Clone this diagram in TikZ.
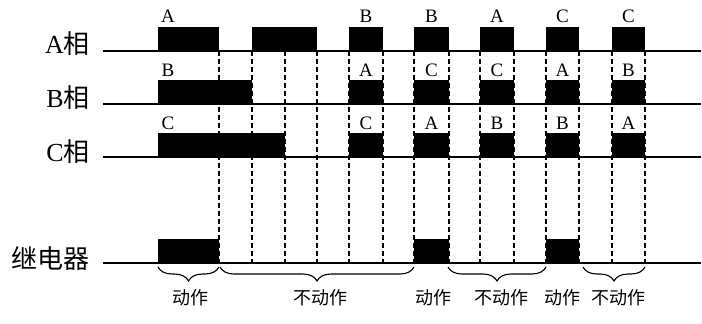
\documentclass[tikz,border=0pt]{standalone}
\usepackage{fontspec}
\setmainfont{Liberation Serif}
\newfontfamily\cjk{Noto Sans CJK SC}
\usepackage{tikz}
\usetikzlibrary{decorations.pathreplacing}

\begin{document}
\begin{tikzpicture}[x=1pt,y=-1pt]
                \useasboundingbox (0,0) rectangle (702,324);
                % Row names
                \node[anchor=base east,inner sep=0pt,font=\fontsize{26}{26}\selectfont] (nameA) at (90,53) {A{\cjk 相}};
                \node[anchor=base east,inner sep=0pt,font=\fontsize{26}{26}\selectfont] (nameB) at (90,107) {B{\cjk 相}};
                \node[anchor=base east,inner sep=0pt,font=\fontsize{26}{26}\selectfont] (nameC) at (90,161) {C{\cjk 相}};
                \node[anchor=base east,inner sep=0pt,font=\cjk\fontsize{26}{26}\selectfont] (nameR) at (90,268) {继电器};
                % Dashed time marks
                \foreach \t in {219,252,285,317,349,383,414,449,480,514,546,579,612,645}
                    \draw[line width=1.2pt,black,dash pattern=on 5pt off 3pt](\t,51)--(\t,263);
                % Base lines
                \draw[line width=1.6pt,black](103,51)--(701,51);
                \draw[line width=1.6pt,black](103,104)--(701,104);
                \draw[line width=1.6pt,black](103,157)--(701,157);
                \draw[line width=1.6pt,black](103,263)--(701,263);
                % A phase pulses
                \fill[black](158,51)rectangle(219,27);
                \fill[black](252,51)rectangle(317,27);
                \foreach \a/\b in {349/383,414/449,480/514,546/579,612/645}
                    \fill[black](\a,51)rectangle(\b,27);
                % B phase pulses
                \fill[black](158,104)rectangle(252,80);
                \foreach \a/\b in {349/383,414/449,480/514,546/579,612/645}
                    \fill[black](\a,104)rectangle(\b,80);
                % C phase pulses
                \fill[black](158,157)rectangle(285,133);
                \foreach \a/\b in {349/383,414/449,480/514,546/579,612/645}
                    \fill[black](\a,157)rectangle(\b,133);
                % Relay pulses
                \fill[black](158,263)rectangle(219,239);
                \fill[black](414,263)rectangle(449,239);
                \fill[black](546,263)rectangle(579,239);
                % Phase letters
                \foreach \x/\la/\lb/\lc [count=\i] in {168/A/B/C,366/B/A/C,431.5/B/C/A,497/A/C/B,562.5/C/A/B,628.5/C/B/A}{
                    \node[anchor=base,inner sep=0pt,font=\fontsize{19}{19}\selectfont] (labA\i) at (\x,22) {\la};
                    \node[anchor=base,inner sep=0pt,font=\fontsize{19}{19}\selectfont] (labB\i) at (\x,76) {\lb};
                    \node[anchor=base,inner sep=0pt,font=\fontsize{19}{19}\selectfont] (labC\i) at (\x,129) {\lc};
                }
                % Braces
                \draw[line width=1.1pt,black,decorate,decoration={brace,mirror,amplitude=14pt}](158,267)--(219,267);
                \draw[line width=1.1pt,black,decorate,decoration={brace,mirror,amplitude=14pt}](220,267)--(414,267);
                \draw[line width=1.1pt,black,decorate,decoration={brace,mirror,amplitude=14pt}](448,267)--(546,267);
                \draw[line width=1.1pt,black,decorate,decoration={brace,mirror,amplitude=14pt}](583,267)--(645,267);
                % Relay states
                \node[font=\cjk\fontsize{18}{18}\selectfont,inner sep=0pt] (act1) at (190,298) {动作};
                \node[font=\cjk\fontsize{18}{18}\selectfont,inner sep=0pt] (idle1) at (320,298) {不动作};
                \node[font=\cjk\fontsize{18}{18}\selectfont,inner sep=0pt] (act2) at (433,298) {动作};
                \node[font=\cjk\fontsize{18}{18}\selectfont,inner sep=0pt] (idle2) at (501,298) {不动作};
                \node[font=\cjk\fontsize{18}{18}\selectfont,inner sep=0pt] (act3) at (562,298) {动作};
                \node[font=\cjk\fontsize{18}{18}\selectfont,inner sep=0pt] (idle3) at (618,298) {不动作};
\end{tikzpicture}
\end{document}
